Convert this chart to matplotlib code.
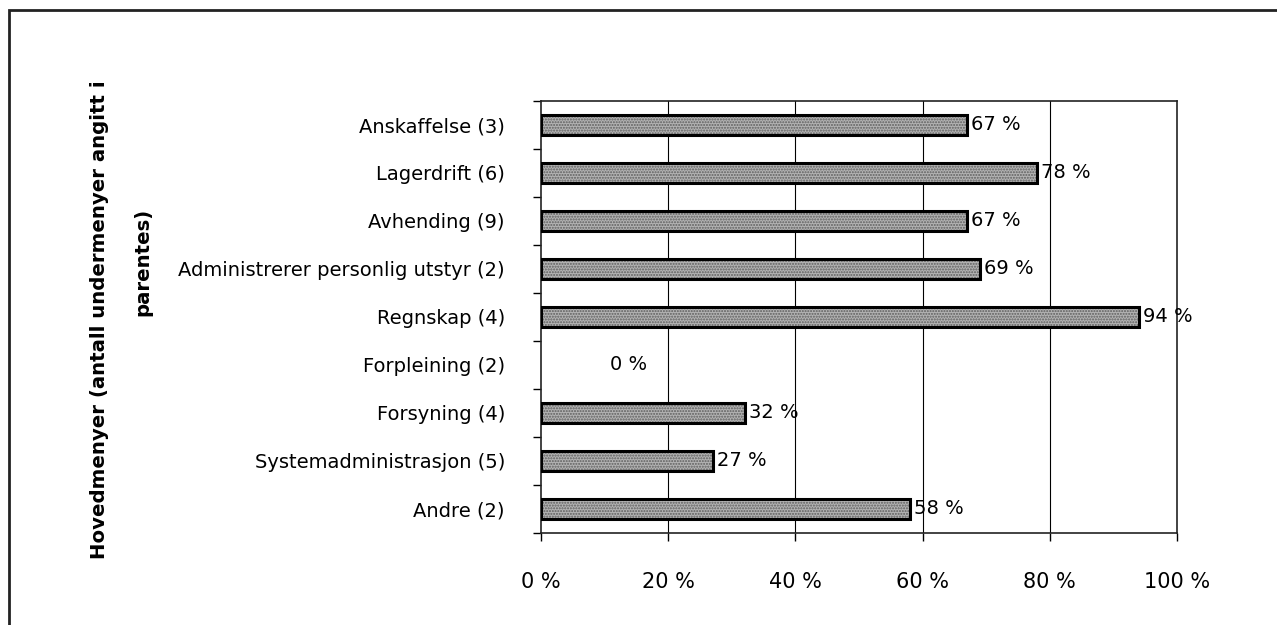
import matplotlib
matplotlib.use("Agg")
import matplotlib.pyplot as plt
from matplotlib.patches import Rectangle

categories = ["Anskaffelse (3)", "Lagerdrift (6)", "Avhending (9)",
              "Administrerer personlig utstyr (2)", "Regnskap (4)",
              "Forpleining (2)", "Forsyning (4)", "Systemadministrasjon (5)",
              "Andre (2)"]
values = [67, 78, 67, 69, 94, 0, 32, 27, 58]
xticks = [0, 20, 40, 60, 80, 100]
xtick_labels = ["0 %", "20 %", "40 %", "60 %", "80 %", "100 %"]
ylabel_lines = ["Hovedmenyer (antall undermenyer angitt i", "parentes)"]

plt.rcParams['font.family'] = ['DejaVu Sans']

W, H = 1277, 625
fig = plt.figure(figsize=(W / 100, H / 100), dpi=100)
ax = fig.add_axes([541 / W, 1 - 533 / H, (1177 - 541) / W, (533 - 101) / H])

ypos = list(range(len(categories)))
bh = 0.42
ax.barh(ypos, values, height=bh, color='#b3b3b3', hatch='......',
        edgecolor='#5e5e5e', linewidth=0, zorder=3)
ax.barh(ypos, values, height=bh, fill=False, edgecolor='black',
        linewidth=[0 if v == 0 else 2.2 for v in values], zorder=4)

for y, v in zip(ypos, values):
    off = 50 if v == 0 else 3
    ax.annotate(f"{v} %", xy=(v, y), xytext=(off, 0), textcoords='offset points',
                va='center', ha='left', fontsize=14, zorder=5)

ax.set_xlim(0, 100)
ax.set_ylim(len(categories) - 0.5, -0.5)
ax.set_xticks(xticks)
ax.set_xticklabels(xtick_labels, fontsize=15)
ax.set_yticks(ypos)
ax.set_yticklabels(categories, fontsize=14)
ax.set_yticks([y + 0.5 for y in range(-1, len(categories))], minor=True)
ax.tick_params(axis='y', which='major', length=0, pad=26)
ax.tick_params(axis='y', which='minor', length=6, width=1, direction='out')
ax.tick_params(axis='x', which='major', length=6, width=1, direction='out', pad=22)

for x in xticks[1:-1]:
    ax.axvline(x, color='black', linewidth=0.8, zorder=1)

for s in ax.spines.values():
    s.set_linewidth(1.2)
    s.set_color('#222222')

fig.text(100 / W, 1 - 320 / H, ylabel_lines[0], rotation=90, ha='center', va='center',
         fontsize=14.2, fontweight='bold')
fig.text(143 / W, 1 - 262 / H, ylabel_lines[1], rotation=90, ha='center', va='center',
         fontsize=14.2, fontweight='bold')

fig.patches.append(Rectangle((9 / W, -0.1), 1.2, 1 - 10 / H + 0.1,
                             transform=fig.transFigure, fill=False,
                             edgecolor='#222222', linewidth=2))

fig.savefig("out.png", dpi=100)
